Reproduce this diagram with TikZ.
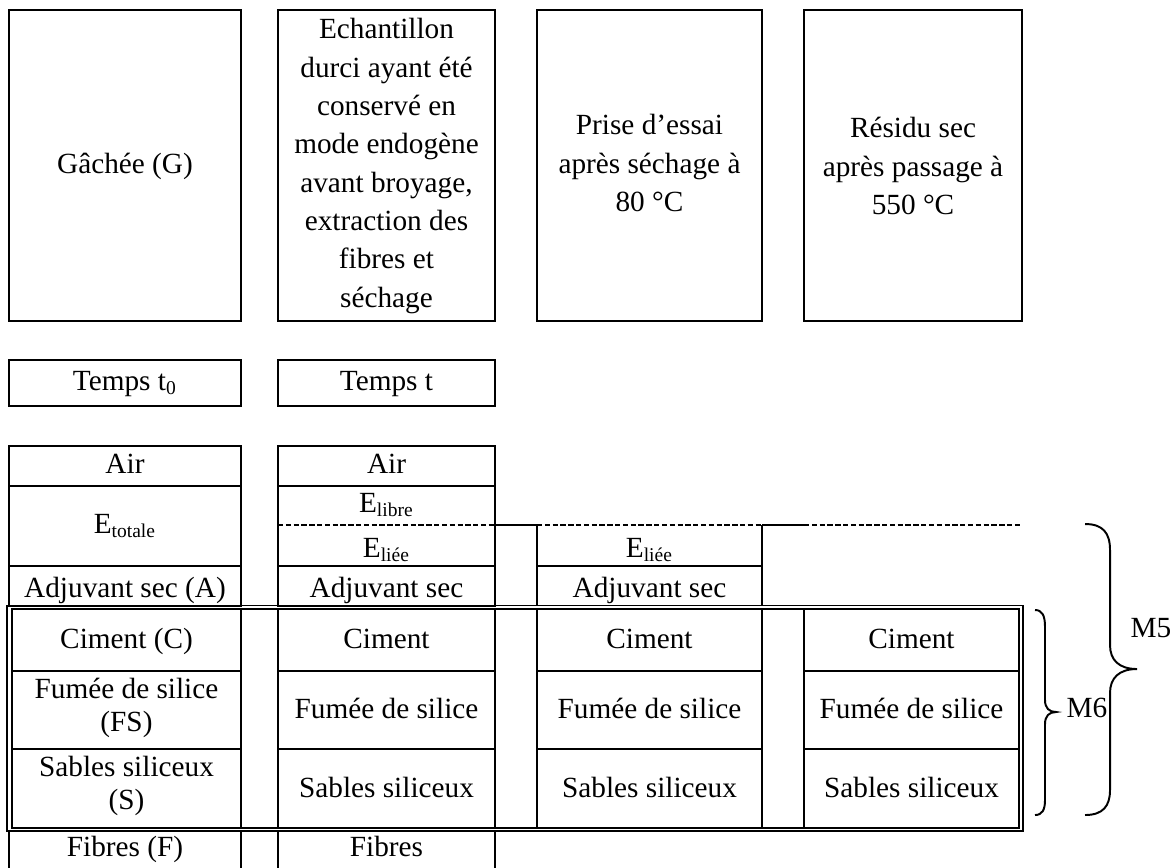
\documentclass[tikz,border=0pt]{standalone}
\usepackage{fontspec}
\setmainfont{Liberation Serif}
\usetikzlibrary{positioning}

\begin{document}
\begin{tikzpicture}[x=0.41pt, y=-0.41pt,
  box/.style={line width=0.8pt},
  frame/.style={line width=0.65pt},
  cut/.style={line width=0.6pt, dash pattern=on 2.2pt off 1pt},
  txt/.style={inner sep=0pt, anchor=base, font=\fontsize{12}{13.6}\selectfont},
  txtml/.style={inner sep=0pt, align=center, font=\fontsize{12}{13.6}\selectfont},
  toptxt/.style={inner sep=0pt, align=center, font=\fontsize{12}{15.7}\selectfont}]

\useasboundingbox (0,0) rectangle (1175,867);

% === Top boxes: stages ===
\draw[box] (9,10) rectangle (241,321);
\draw[box] (278,10) rectangle (495,321);
\draw[box] (537,10) rectangle (762,321);
\draw[box] (804,10) rectangle (1022,321);
\node[toptxt] (gachee) at (125,166) {Gâchée (G)};
\node[toptxt] (echant) at (386.5,166) {Echantillon\\durci ayant été\\conservé en\\mode endogène\\avant broyage,\\extraction des\\fibres et\\séchage};
\node[toptxt] (prise) at (649.5,163) {Prise d’essai\\après séchage à\\80 °C};
\node[toptxt] (residu) at (913,166) {Résidu sec\\après passage à\\550 °C};

% === Time boxes ===
\draw[box] (9,360) rectangle (241,406);
\draw[box] (278,360) rectangle (495,406);
\node[txt] (tzero) at (125,390) {Temps t\textsubscript{0}};
\node[txt] (tt) at (386.5,390) {Temps t};

% === Upper rows (air, water, admixture) ===
\draw[box] (9,446) rectangle (241,605.5);
\draw[box] (9,486) -- (241,486);
\draw[box] (9,566) -- (241,566);
\draw[box] (278,446) rectangle (495,605.5);
\draw[box] (278,486) -- (495,486);
\draw[box] (278,566) -- (495,566);
\draw[box] (537,525) -- (537,605.5);
\draw[box] (762,525) -- (762,605.5);
\draw[box] (537,566) -- (762,566);

% free / bound water limit
\draw[cut] (278,525) -- (495,525);
\draw[box] (495,525) -- (537,525);
\draw[cut] (537,525) -- (762,525);
\draw[box] (762,525) -- (804,525);
\draw[cut] (804,525) -- (1022,525);

\node[txt] (air1) at (125,473) {Air};
\node[txt] (air2) at (386.5,473) {Air};
\node[txt] (etot) at (125,533) {E\textsubscript{totale}};
\node[txt] (elibre) at (386.5,512) {E\textsubscript{libre}};
\node[txt] (eliee2) at (386.5,557) {E\textsubscript{liée}};
\node[txt] (eliee3) at (649.5,557) {E\textsubscript{liée}};
\node[txt] (adj1) at (125,597) {Adjuvant sec (A)};
\node[txt] (adj2) at (386.5,597) {Adjuvant sec};
\node[txt] (adj3) at (649.5,597) {Adjuvant sec};

% === Double frame: solid phases ===
\draw[frame] (7,605.5) rectangle (1023,831);
\draw[frame] (12,609) rectangle (1019,828);
\foreach \x in {241,278,495,537,762,804}
  \draw[box] (\x,609) -- (\x,828);
\foreach \a/\b in {12/241,278/495,537/762,804/1019} {
  \draw[box] (\a,671) -- (\b,671);
  \draw[box] (\a,749) -- (\b,749);
}

\node[txt] (ciment1) at (126.5,648) {Ciment (C)};
\node[txtml] (fumee1) at (126.5,708) {Fumée de silice\\(FS)};
\node[txtml] (sable1) at (126.5,786) {Sables siliceux\\(S)};
\foreach \cx/\nm in {386.5/b,649.5/c,911.5/d} {
  \node[txt] (ciment\nm) at (\cx,648) {Ciment};
  \node[txt] (fumee\nm) at (\cx,718) {Fumée de silice};
  \node[txt] (sable\nm) at (\cx,797) {Sables siliceux};
}

% === Fibres ===
\draw[box] (9,868) -- (9,831);
\draw[box] (241,831) -- (241,868);
\draw[box] (278,868) -- (278,831);
\draw[box] (495,831) -- (495,868);
\node[txt] (fibres1) at (125,856) {Fibres (F)};
\node[txt] (fibres2) at (386.5,856) {Fibres};

% === Braces ===
\draw[box] (1035,610) .. controls (1042,610) and (1045,615) .. (1045,627)
  -- (1045,700) .. controls (1045,708) and (1049,712) .. (1056,712)
  .. controls (1049,712) and (1045,716) .. (1045,724)
  -- (1045,800) .. controls (1045,810) and (1042,815) .. (1035,815);
\node[txt] (msix) at (1087,717) {M6};

\draw[box] (1085,524) .. controls (1103,524) and (1110,533) .. (1110,550)
  -- (1110,645) .. controls (1110,660) and (1119,669) .. (1137,669)
  .. controls (1119,669) and (1110,678) .. (1110,693)
  -- (1110,790) .. controls (1110,806) and (1103,815) .. (1085,815);
\node[txt] (mfive) at (1151,637) {M5};

\end{tikzpicture}
\end{document}
